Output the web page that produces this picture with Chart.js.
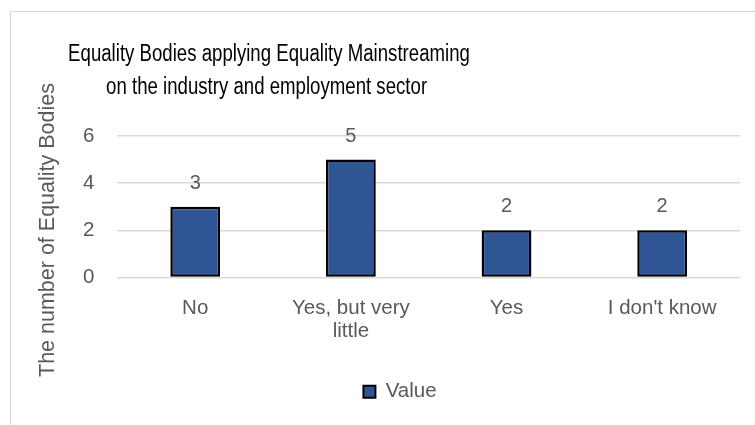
<!DOCTYPE html>
<html>
<head>
<meta charset="utf-8">
<script src="https://cdn.jsdelivr.net/npm/chart.js@4/dist/chart.umd.min.js"></script>
<style>
  html, body { margin: 0; padding: 0; background: #fff; overflow: hidden; }
  #frame { position: absolute; left: 10px; top: 11px; width: 760px; height: 430px; border-left: 1px solid #d9d9d9; border-top: 1px solid #d9d9d9; }
  #wrap { position: absolute; left: 0; top: 0; width: 755px; height: 425px; }
</style>
</head>
<body>
<div id="frame"></div>
<div id="wrap"><canvas id="chart"></canvas></div>
<script>
const categories = ['No', ['Yes, but very', 'little'], 'Yes', "I don't know"];
const values = [3, 5, 2, 2];
const yTicks = [0, 2, 4, 6];
const titleLines = ['Equality Bodies applying Equality Mainstreaming', 'on the industry and employment sector'];
const yTitle = 'The number of Equality Bodies';

const FONT = "'Liberation Sans', Arial, sans-serif";
const GREY = '#595959';
const BAR = '#2F5597';

// chart title (slightly condensed) and y axis title
const headings = {
  id: 'headings',
  afterDraw(chart) {
    const ctx = chart.ctx;
    ctx.save();
    ctx.textAlign = 'center';
    ctx.textBaseline = 'middle';
    ctx.fillStyle = '#000';
    ctx.font = '23px ' + FONT;
    ctx.save();
    ctx.translate(269, 0);
    ctx.scale(0.81, 1);
    ctx.fillText(titleLines[0], 0, 55);
    ctx.fillText(titleLines[1], -3, 88);
    ctx.restore();
    ctx.fillStyle = GREY;
    ctx.font = '21.5px ' + FONT;
    ctx.translate(48, 230);
    ctx.rotate(-Math.PI / 2);
    ctx.fillText(yTitle, 0, 0);
    ctx.restore();
  }
};

// value above each bar
const barValues = {
  id: 'barValues',
  afterDatasetsDraw(chart) {
    const ctx = chart.ctx;
    const meta = chart.getDatasetMeta(0);
    ctx.save();
    ctx.font = '20px ' + FONT;
    ctx.fillStyle = GREY;
    ctx.textAlign = 'center';
    ctx.textBaseline = 'alphabetic';
    meta.data.forEach((bar, i) => {
      ctx.fillText(values[i], bar.x, bar.y - 18);
    });
    ctx.restore();
  }
};

new Chart(document.getElementById('chart'), {
  type: 'bar',
  data: {
    labels: categories,
    datasets: [{
      label: 'Value',
      data: values,
      backgroundColor: BAR,
      borderColor: '#000000',
      borderWidth: 2.5,
      borderSkipped: false,
      categoryPercentage: 1,
      barPercentage: 0.32
    }]
  },
  options: {
    responsive: true,
    maintainAspectRatio: false,
    animation: false,
    layout: { padding: { left: 60, right: 15, top: 136, bottom: 13 } },
    plugins: {
      title: { display: false },
      legend: {
        position: 'bottom',
        labels: {
          color: GREY,
          font: { family: FONT, size: 20.5 },
          boxWidth: 12,
          boxHeight: 12,
          padding: 19,
          generateLabels: () => [{
            text: 'Value',
            fillStyle: BAR,
            strokeStyle: '#000',
            lineWidth: 2,
            fontColor: GREY
          }]
        }
      },
      tooltip: { enabled: false }
    },
    scales: {
      x: {
        grid: { display: false, drawTicks: false },
        border: { display: false },
        ticks: { color: GREY, font: { family: FONT, size: 20.5, lineHeight: 1.1 }, padding: 20, maxRotation: 0 }
      },
      y: {
        min: 0,
        max: 6,
        afterBuildTicks: axis => { axis.ticks = yTicks.map(v => ({ value: v })); },
        grid: { color: '#d9d9d9', lineWidth: 1.5, drawTicks: false },
        border: { display: false },
        ticks: { color: GREY, font: { family: FONT, size: 20.5 }, padding: 23 }
      }
    }
  },
  plugins: [barValues, headings]
});
</script>
</body>
</html>
